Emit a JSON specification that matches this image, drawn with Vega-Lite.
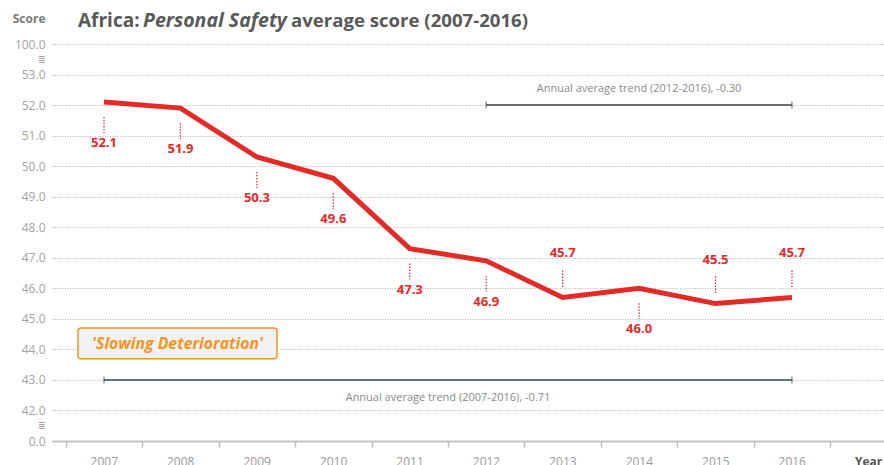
{
  "$schema": "https://vega.github.io/schema/vega-lite/v6.json",
  "width": 832,
  "height": 397,
  "autosize": {"type": "none"},
  "padding": {"left": 52, "top": 44, "right": 0, "bottom": 24},
  "config": {"view": {"stroke": null}, "font": "Open Sans"},
  "data": {"values": [
    {"year": 2007, "value": 52.1},
    {"year": 2008, "value": 51.9},
    {"year": 2009, "value": 50.3},
    {"year": 2010, "value": 49.6},
    {"year": 2011, "value": 47.3},
    {"year": 2012, "value": 46.9},
    {"year": 2013, "value": 45.7},
    {"year": 2014, "value": 46.0},
    {"year": 2015, "value": 45.5},
    {"year": 2016, "value": 45.7}
  ]},
  "layer": [
    {
      "mark": {"type": "line", "opacity": 0},
      "encoding": {
        "x": {"field": "year", "type": "quantitative",
          "scale": {"domain": [2006.3197, 2017.204], "nice": false, "zero": false},
          "axis": {"title": null, "values": [2006.5, 2007.5, 2008.5, 2009.5, 2010.5, 2011.5, 2012.5, 2013.5, 2014.5, 2015.5, 2016.5],
            "tickCount": 30,
            "labelExpr": "datum.value > 2016 ? 'Year' : format(datum.value + 0.5, 'd')",
            "labelOffset": 38, "labelFlush": false, "labelOverlap": false, "labelBound": false,
            "labelColor": {"condition": {"test": "datum.value > 2016", "value": "#555555"}, "value": "#9a9a9a"},
            "labelFontWeight": {"condition": {"test": "datum.value > 2016", "value": "bold"}, "value": "normal"},
            "labelFontSize": 12, "labelPadding": 9, "tickSize": 6, "tickColor": "#bdbdbd", "tickWidth": 1.5,
            "domainColor": "#c3c3c3", "domainWidth": 2, "grid": false}},
        "y": {"field": "value", "type": "quantitative",
          "scale": {"domain": [41, 54], "nice": false, "zero": false},
          "axis": {"title": "Score", "titleAngle": 0, "titleAlign": "right", "titleBaseline": "middle",
            "titleX": -7, "titleY": -26, "titleFontSize": 12, "titleFontWeight": "bold", "titleColor": "#7a7a7a",
            "values": [41, 41.5, 42, 43, 44, 45, 46, 47, 48, 49, 50, 51, 52, 53, 53.5, 54],
            "tickCount": 30,
            "labelExpr": "datum.value == 54 ? '100.0' : datum.value == 41 ? '0.0' : (datum.value == 53.5 || datum.value == 41.5) ? '≣    ' : format(datum.value, '.1f')",
            "labelColor": "#a3a3a3",
            "labelFontSize": {"condition": {"test": "datum.value == 53.5 || datum.value == 41.5", "value": 9}, "value": 12},
            "labelPadding": 7, "ticks": false, "tickSize": 0, "domain": false,
            "labelOverlap": false, "labelBound": false, "labelFlush": false,
            "grid": true, "gridColor": "#b5b5b5", "gridDash": [1, 1.5], "gridWidth": 1,
            "gridOpacity": {"condition": {"test": "datum.value == 53.5 || datum.value == 41.5", "value": 0}, "value": 1}}}
      }
    },
    {
      "data": {"values": [{"label": "Africa:"}]},
      "mark": {"type": "text", "align": "left", "baseline": "alphabetic", "fontSize": 19, "fontWeight": "bold", "color": "#595959"},
      "encoding": {
        "x": {"datum": 2006.6598, "type": "quantitative", "scale": {"domain": [2006.3197, 2017.204], "nice": false, "zero": false}},
        "y": {"datum": 54.557, "type": "quantitative", "scale": {"domain": [41, 54], "nice": false, "zero": false}},
        "text": {"field": "label"}
      }
    },
    {
      "data": {"values": [{"label": "Personal Safety"}]},
      "mark": {"type": "text", "align": "left", "baseline": "alphabetic", "fontSize": 19.5, "fontWeight": "bold", "fontStyle": "italic", "color": "#595959"},
      "encoding": {
        "x": {"datum": 2007.5102, "type": "quantitative", "scale": {"domain": [2006.3197, 2017.204], "nice": false, "zero": false}},
        "y": {"datum": 54.557, "type": "quantitative", "scale": {"domain": [41, 54], "nice": false, "zero": false}},
        "text": {"field": "label"}
      }
    },
    {
      "data": {"values": [{"label": "average score (2007-2016)"}]},
      "mark": {"type": "text", "align": "left", "baseline": "alphabetic", "fontSize": 18.6, "fontWeight": "bold", "color": "#595959"},
      "encoding": {
        "x": {"datum": 2009.4464, "type": "quantitative", "scale": {"domain": [2006.3197, 2017.204], "nice": false, "zero": false}},
        "y": {"datum": 54.557, "type": "quantitative", "scale": {"domain": [41, 54], "nice": false, "zero": false}},
        "text": {"field": "label"}
      }
    },
    {
      "data": {"values": [{"label": "'Slowing Deterioration'"}]},
      "mark": {"type": "rect", "fill": "#f1f2f3", "stroke": "#f7941d", "strokeWidth": 1.5, "cornerRadius": 3},
      "encoding": {
        "x": {"datum": 2006.66, "type": "quantitative", "scale": {"domain": [2006.3197, 2017.204], "nice": false, "zero": false}},
        "x2": {"datum": 2009.263},
        "y": {"datum": 44.70, "type": "quantitative", "scale": {"domain": [41, 54], "nice": false, "zero": false}},
        "y2": {"datum": 43.69}
      }
    },
    {
      "data": {"values": [{"label": "'Slowing Deterioration'"}]},
      "mark": {"type": "text", "fontSize": 15.8, "fontWeight": "bold", "fontStyle": "italic", "color": "#f7941d"},
      "encoding": {
        "x": {"datum": 2007.962, "type": "quantitative", "scale": {"domain": [2006.3197, 2017.204], "nice": false, "zero": false}},
        "y": {"datum": 44.19, "type": "quantitative", "scale": {"domain": [41, 54], "nice": false, "zero": false}},
        "text": {"field": "label"}
      }
    },
    {
      "data": {"values": [{"label": "Annual average trend (2007-2016), -0.71"}]},
      "mark": {"type": "rule", "color": "#3d4a54", "strokeWidth": 1.5},
      "encoding": {
        "x": {"datum": 2007, "type": "quantitative", "scale": {"domain": [2006.3197, 2017.204], "nice": false, "zero": false}},
        "x2": {"datum": 2016},
        "y": {"datum": 43, "type": "quantitative", "scale": {"domain": [41, 54], "nice": false, "zero": false}}
      }
    },
    {
      "transform": [{"filter": "datum.year == 2007 || datum.year == 2016"}],
      "mark": {"type": "tick", "orient": "vertical", "color": "#3d4a54", "size": 7, "thickness": 1.2},
      "encoding": {
        "x": {"field": "year", "type": "quantitative", "scale": {"domain": [2006.3197, 2017.204], "nice": false, "zero": false}},
        "y": {"datum": 43, "type": "quantitative", "scale": {"domain": [41, 54], "nice": false, "zero": false}}
      }
    },
    {
      "data": {"values": [{"label": "Annual average trend (2007-2016), -0.71"}]},
      "mark": {"type": "text", "fontSize": 11, "color": "#8a8a8a"},
      "encoding": {
        "x": {"datum": 2011.5, "type": "quantitative", "scale": {"domain": [2006.3197, 2017.204], "nice": false, "zero": false}},
        "y": {"datum": 42.41, "type": "quantitative", "scale": {"domain": [41, 54], "nice": false, "zero": false}},
        "text": {"field": "label"}
      }
    },
    {
      "data": {"values": [{"label": "Annual average trend (2012-2016), -0.30"}]},
      "mark": {"type": "rule", "color": "#6e6e6e", "strokeWidth": 2},
      "encoding": {
        "x": {"datum": 2012, "type": "quantitative", "scale": {"domain": [2006.3197, 2017.204], "nice": false, "zero": false}},
        "x2": {"datum": 2016},
        "y": {"datum": 52, "type": "quantitative", "scale": {"domain": [41, 54], "nice": false, "zero": false}}
      }
    },
    {
      "transform": [{"filter": "datum.year == 2012 || datum.year == 2016"}],
      "mark": {"type": "tick", "orient": "vertical", "color": "#3d4a54", "size": 7, "thickness": 1.2},
      "encoding": {
        "x": {"field": "year", "type": "quantitative", "scale": {"domain": [2006.3197, 2017.204], "nice": false, "zero": false}},
        "y": {"datum": 52, "type": "quantitative", "scale": {"domain": [41, 54], "nice": false, "zero": false}}
      }
    },
    {
      "data": {"values": [{"label": "Annual average trend (2012-2016), -0.30"}]},
      "mark": {"type": "text", "fontSize": 11, "color": "#8a8a8a"},
      "encoding": {
        "x": {"datum": 2014, "type": "quantitative", "scale": {"domain": [2006.3197, 2017.204], "nice": false, "zero": false}},
        "y": {"datum": 52.53, "type": "quantitative", "scale": {"domain": [41, 54], "nice": false, "zero": false}},
        "text": {"field": "label"}
      }
    },
    {
      "transform": [{"filter": "indexof([2013, 2015, 2016], datum.year) < 0"}],
      "mark": {"type": "rule", "color": "#e42a27", "strokeDash": [1.5, 1.5], "strokeWidth": 1.2, "yOffset": 15, "y2Offset": 31},
      "encoding": {
        "x": {"field": "year", "type": "quantitative", "scale": {"domain": [2006.3197, 2017.204], "nice": false, "zero": false}},
        "y": {"field": "value", "type": "quantitative", "scale": {"domain": [41, 54], "nice": false, "zero": false}},
        "y2": {"field": "value"}
      }
    },
    {
      "transform": [{"filter": "indexof([2013, 2015, 2016], datum.year) >= 0"}],
      "mark": {"type": "rule", "color": "#e42a27", "strokeDash": [1.5, 1.5], "strokeWidth": 1.2, "yOffset": -27, "y2Offset": -10},
      "encoding": {
        "x": {"field": "year", "type": "quantitative", "scale": {"domain": [2006.3197, 2017.204], "nice": false, "zero": false}},
        "y": {"field": "value", "type": "quantitative", "scale": {"domain": [41, 54], "nice": false, "zero": false}},
        "y2": {"field": "value"}
      }
    },
    {
      "transform": [{"filter": "indexof([2013, 2015, 2016], datum.year) < 0"}],
      "mark": {"type": "text", "color": "#e42a27", "fontWeight": "bold", "fontSize": 13, "dy": 41},
      "encoding": {
        "x": {"field": "year", "type": "quantitative", "scale": {"domain": [2006.3197, 2017.204], "nice": false, "zero": false}},
        "y": {"field": "value", "type": "quantitative", "scale": {"domain": [41, 54], "nice": false, "zero": false}},
        "text": {"field": "value", "type": "quantitative", "format": ".1f"}
      }
    },
    {
      "transform": [{"filter": "indexof([2013, 2015, 2016], datum.year) >= 0"}],
      "mark": {"type": "text", "color": "#e42a27", "fontWeight": "bold", "fontSize": 13, "dy": -44},
      "encoding": {
        "x": {"field": "year", "type": "quantitative", "scale": {"domain": [2006.3197, 2017.204], "nice": false, "zero": false}},
        "y": {"field": "value", "type": "quantitative", "scale": {"domain": [41, 54], "nice": false, "zero": false}},
        "text": {"field": "value", "type": "quantitative", "format": ".1f"}
      }
    },
    {
      "mark": {"type": "line", "color": "#e42a27", "strokeWidth": 5, "strokeJoin": "miter"},
      "encoding": {
        "x": {"field": "year", "type": "quantitative", "scale": {"domain": [2006.3197, 2017.204], "nice": false, "zero": false}},
        "y": {"field": "value", "type": "quantitative", "scale": {"domain": [41, 54], "nice": false, "zero": false}}
      }
    }
  ]
}
